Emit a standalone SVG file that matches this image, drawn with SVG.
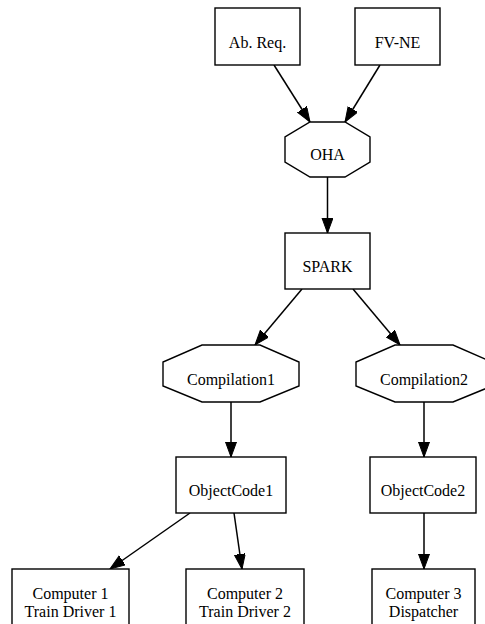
<svg xmlns="http://www.w3.org/2000/svg" width="485" height="624" viewBox="0 0 485 624">
  <defs>
    <marker id="arrow" markerUnits="userSpaceOnUse" markerWidth="16" markerHeight="12" refX="15" refY="5.5" orient="auto">
      <path d="M0,0 L15,5.5 L0,11 z" fill="#000" stroke="#000" stroke-width="1"/>
    </marker>
    <style>
      .shape { fill: #fff; stroke: #000; stroke-width: 1.4; }
      .edge { fill: none; stroke: #000; stroke-width: 1.5; marker-end: url(#arrow); }
      text { font-family: "Liberation Serif", "Times New Roman", serif; font-size: 16px; fill: #000; text-anchor: middle; }
    </style>
  </defs>
  <rect width="485" height="624" fill="#fff"/>

  <g id="edges">
    <line class="edge" x1="274" y1="65" x2="310" y2="122"/>
    <line class="edge" x1="380" y1="65" x2="345" y2="122"/>
    <line class="edge" x1="327.5" y1="177" x2="327.5" y2="233"/>
    <line class="edge" x1="302" y1="289" x2="255" y2="345"/>
    <line class="edge" x1="353" y1="289" x2="400" y2="345"/>
    <line class="edge" x1="231" y1="402" x2="231" y2="457"/>
    <line class="edge" x1="424" y1="402" x2="424" y2="457"/>
    <line class="edge" x1="190" y1="513" x2="110" y2="569"/>
    <line class="edge" x1="234" y1="513" x2="242" y2="569"/>
    <line class="edge" x1="424" y1="513" x2="424" y2="569"/>
  </g>

  <g id="ab_req">
    <rect class="shape" x="215" y="8" width="85" height="57"/>
    <text x="257.5" y="48">Ab. Req.</text>
  </g>
  <g id="fv_ne">
    <rect class="shape" x="355" y="8" width="85" height="57"/>
    <text x="397.5" y="48">FV-NE</text>
  </g>
  <g id="oha">
    <polygon class="shape" points="310,122 345,122 370,137 370,162 345,177 310,177 285,162 285,137"/>
    <text x="327.5" y="160">OHA</text>
  </g>
  <g id="spark">
    <rect class="shape" x="285" y="233" width="85" height="56"/>
    <text x="327.5" y="272">SPARK</text>
  </g>
  <g id="compilation1">
    <polygon class="shape" points="202,345 260,345 299,362 299,386 260,402 202,402 163,386 163,362"/>
    <text x="231" y="385">Compilation1</text>
  </g>
  <g id="compilation2">
    <polygon class="shape" points="395,345 453,345 492,362 492,386 453,402 395,402 356,386 356,362"/>
    <text x="424" y="385">Compilation2</text>
  </g>
  <g id="objectcode1">
    <rect class="shape" x="176" y="457" width="110" height="56"/>
    <text x="231" y="496">ObjectCode1</text>
  </g>
  <g id="objectcode2">
    <rect class="shape" x="370" y="457" width="106" height="56"/>
    <text x="423" y="496">ObjectCode2</text>
  </g>
  <g id="computer1">
    <rect class="shape" x="12" y="569" width="117" height="70"/>
    <text x="70.5" y="599">Computer 1</text>
    <text x="70.5" y="617">Train Driver 1</text>
  </g>
  <g id="computer2">
    <rect class="shape" x="186" y="569" width="118" height="70"/>
    <text x="245" y="599">Computer 2</text>
    <text x="245" y="617">Train Driver 2</text>
  </g>
  <g id="computer3">
    <rect class="shape" x="372" y="569" width="103" height="70"/>
    <text x="423.5" y="599">Computer 3</text>
    <text x="423.5" y="617">Dispatcher</text>
  </g>
</svg>
